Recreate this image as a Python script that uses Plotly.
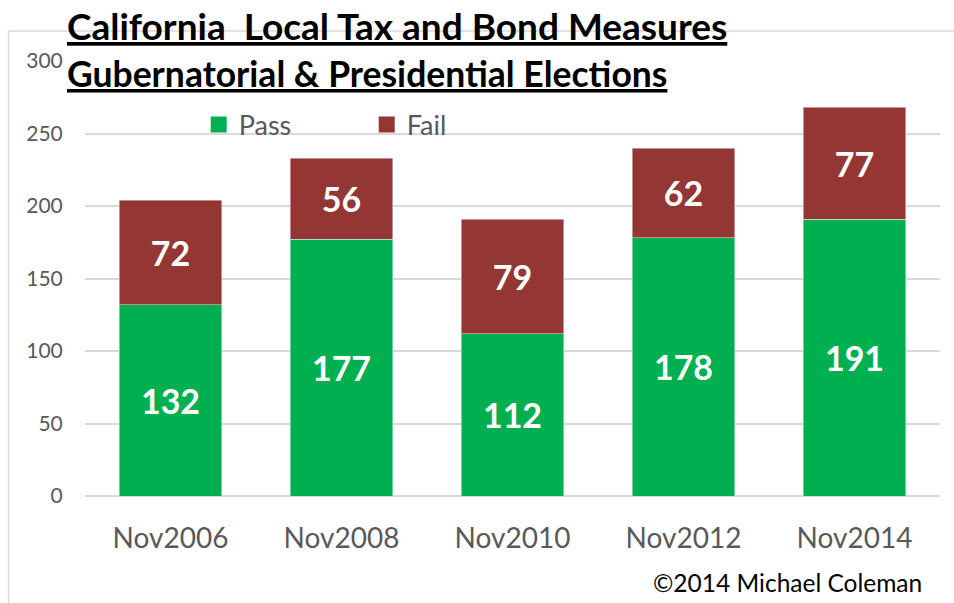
import plotly.graph_objects as go

categories = ["Nov2006", "Nov2008", "Nov2010", "Nov2012", "Nov2014"]
pass_counts = [132, 177, 112, 178, 191]
fail_counts = [72, 56, 79, 62, 77]
y_ticks = [0, 50, 100, 150, 200, 250, 300]

GREEN = "#00B050"
RED = "#943634"
GRAY_TXT = "#595959"
GRID = "#D9D9D9"
FONT = "Lato"

W, H = 954, 603
L, T = 85, 61
PW, PH = 855, 435

def px(xabs):
    return (xabs - L) / PW

def py(yabs):
    return (T + PH - yabs) / PH

fig = go.Figure()
fig.add_trace(go.Bar(
    x=categories, y=pass_counts, name="Pass", marker_color=GREEN,
    text=pass_counts, textposition="inside", insidetextanchor="middle",
    textangle=0, textfont=dict(family=FONT, size=34, color="white", weight="bold"),
    showlegend=False, width=0.6,
))
fig.add_trace(go.Bar(
    x=categories, y=fail_counts, name="Fail", marker_color=RED,
    text=fail_counts, textposition="inside", insidetextanchor="middle",
    textangle=0, textfont=dict(family=FONT, size=34, color="white", weight="bold"),
    showlegend=False, width=0.6,
))
# legend entries
fig.add_trace(go.Scatter(x=[None], y=[None], mode="markers", name="Pass",
                         marker=dict(symbol="square", size=16, color=GREEN)))
fig.add_trace(go.Scatter(x=[None], y=[None], mode="markers", name="Fail",
                         marker=dict(symbol="square", size=16, color=RED)))

fig.update_layout(
    width=W, height=H,
    margin=dict(l=L, r=W - L - PW, t=T, b=H - T - PH),
    paper_bgcolor="white", plot_bgcolor="white",
    barmode="stack",
    font=dict(family=FONT, color=GRAY_TXT),
    showlegend=True,
    legend=dict(
        orientation="h", x=0.133, xanchor="left", y=0.853, yanchor="middle",
        bgcolor="rgba(0,0,0,0)", traceorder="normal",
        font=dict(family=FONT, size=27, color=GRAY_TXT),
        entrywidth=123, entrywidthmode="pixels",
    ),
    xaxis=dict(
        type="category", range=[-0.5, 4.5], showgrid=False,
        ticks="outside", ticklen=17, tickcolor="rgba(0,0,0,0)",
        tickfont=dict(family=FONT, size=28, color=GRAY_TXT),
        showline=False, zeroline=False,
    ),
    yaxis=dict(
        range=[0, 300], tickvals=y_ticks, showgrid=True, gridcolor=GRID, gridwidth=1.5,
        ticks="outside", ticklen=17, tickcolor="rgba(0,0,0,0)",
        tickfont=dict(family=FONT, size=21, color=GRAY_TXT),
        zeroline=True, zerolinecolor=GRID, zerolinewidth=2, showline=False,
    ),
    shapes=[dict(type="rect", xref="paper", yref="paper",
                 x0=px(8.5), x1=1.2, y0=-0.4, y1=py(31),
                 line=dict(color=GRID, width=1.5), fillcolor="rgba(0,0,0,0)",
                 layer="below")],
    annotations=[
        dict(text="<u>California  Local Tax and Bond Measures</u>",
             xref="paper", yref="paper", x=px(65), y=py(25.5),
             xanchor="left", yanchor="middle", showarrow=False,
             font=dict(family=FONT, size=37, color="black", weight="bold")),
        dict(text="<u>Gubernatorial &amp; Presidential Elections</u>",
             xref="paper", yref="paper", x=px(65), y=py(73),
             xanchor="left", yanchor="middle", showarrow=False,
             font=dict(family=FONT, size=35.5, color="black", weight="bold")),
        dict(text="©2014 Michael Coleman",
             xref="paper", yref="paper", x=px(924), y=py(582),
             xanchor="right", yanchor="middle", showarrow=False,
             font=dict(family=FONT, size=24.5, color="black")),
    ],
)

fig.write_html("out.html", post_script="document.body.style.margin='0';",
               config={"displayModeBar": False})
